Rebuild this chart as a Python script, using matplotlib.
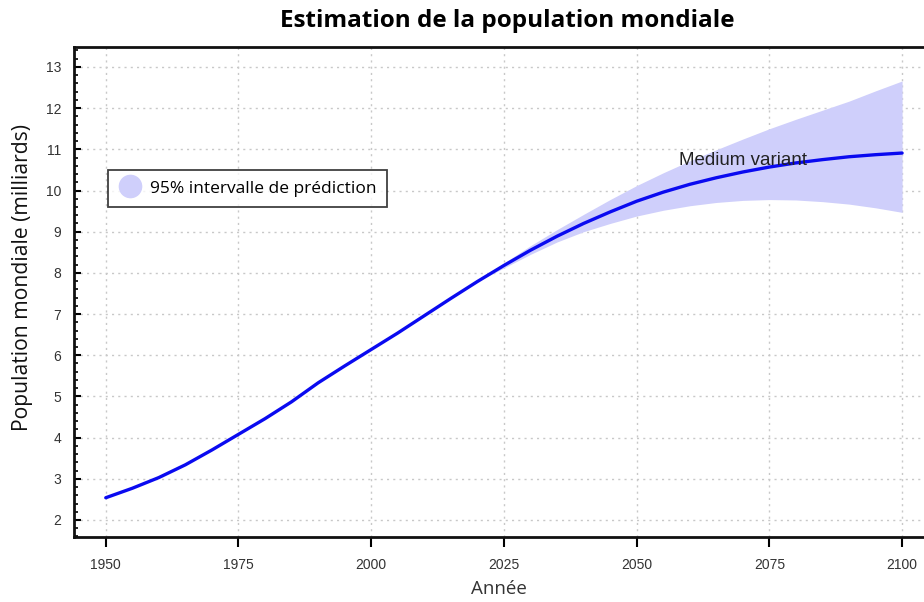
import numpy as np
import matplotlib
matplotlib.use('Agg')
import matplotlib.pyplot as plt
from matplotlib.ticker import MultipleLocator
from matplotlib.lines import Line2D

# World population, medium variant (billions)
years = [1950, 1955, 1960, 1965, 1970, 1975, 1980, 1985, 1990, 1995, 2000,
         2005, 2010, 2015, 2020, 2025, 2030, 2035, 2040, 2045, 2050, 2055,
         2060, 2065, 2070, 2075, 2080, 2085, 2090, 2095, 2100]
population = [2.54, 2.77, 3.03, 3.34, 3.70, 4.08, 4.46, 4.87, 5.33, 5.74, 6.14,
              6.54, 6.96, 7.38, 7.79, 8.18, 8.55, 8.89, 9.20, 9.48, 9.74, 9.96,
              10.15, 10.31, 10.45, 10.57, 10.67, 10.75, 10.82, 10.87, 10.91]

# 95% prediction interval
band_years = [2020, 2025, 2030, 2035, 2040, 2045, 2050, 2055, 2060, 2065, 2070,
              2075, 2080, 2085, 2090, 2095, 2100]
band_low = [7.79, 8.12, 8.45, 8.75, 9.00, 9.20, 9.38, 9.52, 9.63, 9.71, 9.76,
            9.78, 9.77, 9.73, 9.67, 9.58, 9.47]
band_high = [7.79, 8.24, 8.66, 9.05, 9.42, 9.78, 10.12, 10.43, 10.72, 10.99, 11.25,
             11.50, 11.73, 11.95, 12.17, 12.42, 12.66]

x_ticks = [1950, 1975, 2000, 2025, 2050, 2075, 2100]
y_ticks = list(range(2, 14))

fig = plt.figure(figsize=(9.24, 6.02), dpi=100)
ax = fig.add_axes([0.080, 0.108, 0.921, 0.814])

band_color = '#cfcffb'
ax.fill_between(band_years, band_low, band_high, color=band_color, lw=0, zorder=2)
ax.plot(years, population, color='#0a0af0', lw=2.4, zorder=3, solid_capstyle='round')

ax.text(2070, 10.72, 'Medium variant', fontsize=13.5, family='Liberation Sans',
        color='#222222', ha='center', va='center', zorder=4)

ax.set_xlim(1944, 2104.3)
ax.set_ylim(1.587, 13.486)
ax.set_xticks(x_ticks)
ax.set_yticks(y_ticks)
ax.yaxis.set_minor_locator(MultipleLocator(0.2))
ax.grid(True, which='major', color='#c8c8c8', linestyle=(0, (1.5, 3)), lw=1.0, zorder=0)

ax.tick_params(axis='y', which='major', direction='in', length=5, width=1.5,
               labelsize=10, pad=9)
ax.tick_params(axis='y', which='minor', direction='in', length=3, width=1.2)
ax.tick_params(axis='x', which='major', direction='out', length=7, width=1.5,
               labelsize=10, pad=8)
for lab in ax.get_xticklabels() + ax.get_yticklabels():
    lab.set_family('Liberation Sans')
    lab.set_color('#333333')

for side in ['left', 'bottom', 'top']:
    ax.spines[side].set_linewidth(2)
    ax.spines[side].set_color('#111111')
ax.spines['right'].set_visible(False)

ax.set_xlabel('Année', fontsize=13.5, family='Open Sans', color='#333333', labelpad=6)
ax.set_ylabel('Population mondiale (milliards)', fontsize=15.2, family='Open Sans',
              color='#111111')
ax.yaxis.set_label_coords(-0.048, 0.529)

handle = Line2D([], [], marker='o', linestyle='none', markersize=16,
                markerfacecolor=band_color, markeredgecolor=band_color)
leg = ax.legend([handle], ['95% intervalle de prédiction'], loc='upper left',
                bbox_to_anchor=(0.040, 0.749), frameon=True, fancybox=False,
                edgecolor='#111111', prop={'family': 'Open Sans', 'size': 12.5},
                handletextpad=0.5, borderpad=0.6, handlelength=1.3, borderaxespad=0)
leg.get_frame().set_linewidth(1.3)

fig.text(0.549, 0.965, 'Estimation de la population mondiale', ha='center', va='center',
         fontsize=17.5, fontweight='bold', family='Open Sans')

fig.savefig('out.png', dpi=100)
